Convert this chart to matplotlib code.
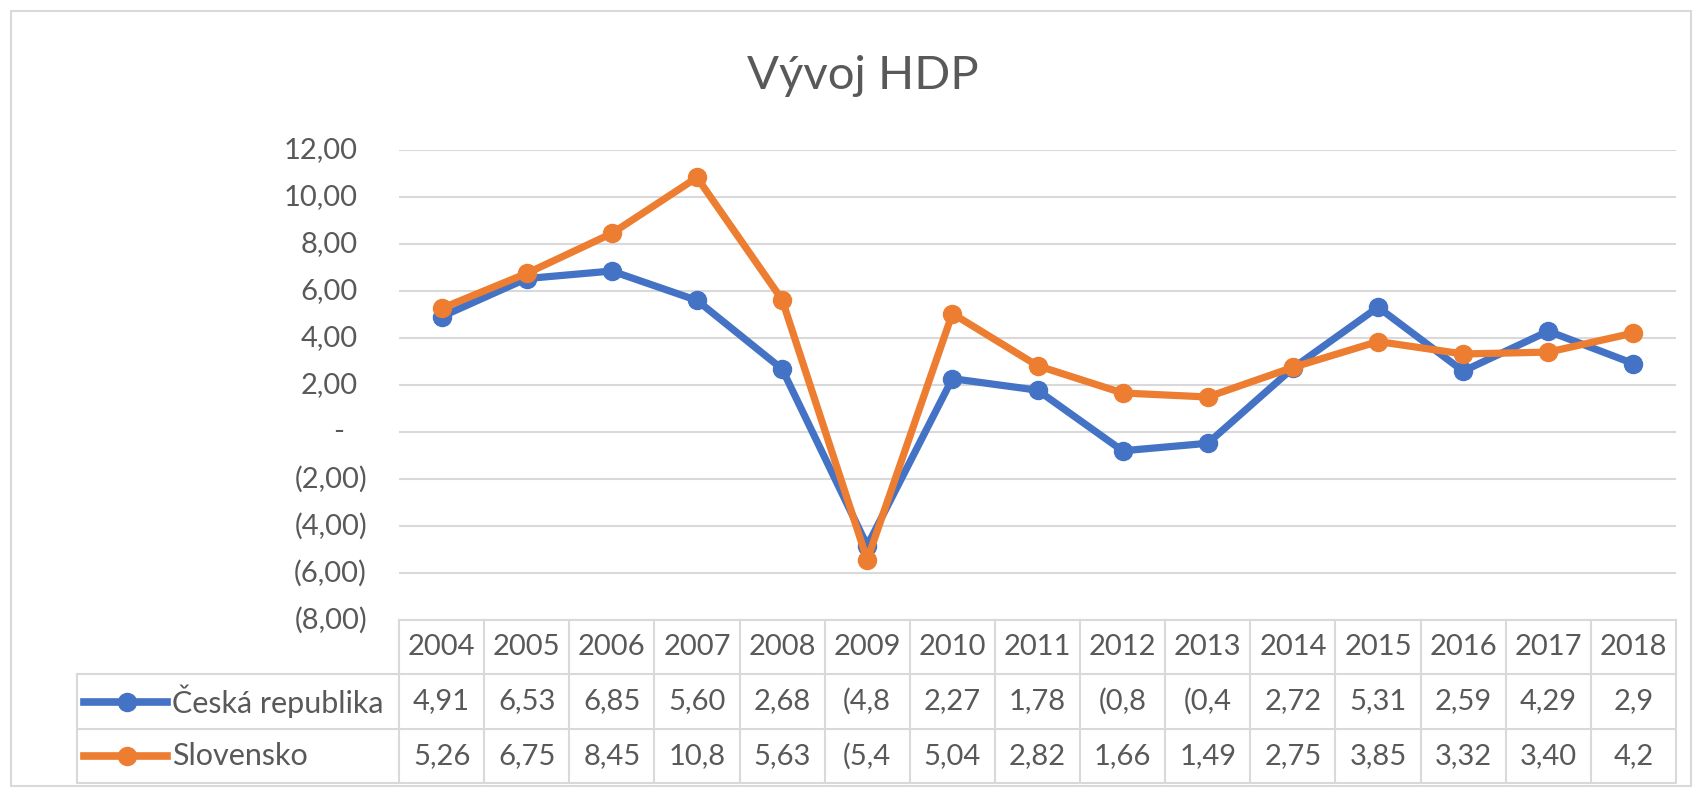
import matplotlib.pyplot as plt
from matplotlib.patches import Rectangle
from matplotlib.transforms import blended_transform_factory

years = ['2004', '2005', '2006', '2007', '2008', '2009', '2010', '2011',
         '2012', '2013', '2014', '2015', '2016', '2017', '2018']
cz_values = [4.91, 6.53, 6.85, 5.60, 2.68, -4.84, 2.27, 1.78,
             -0.80, -0.48, 2.72, 5.31, 2.59, 4.29, 2.91]
sk_values = [5.26, 6.75, 8.45, 10.83, 5.63, -5.44, 5.04, 2.82,
             1.66, 1.49, 2.75, 3.85, 3.32, 3.40, 4.21]
# cell texts as they appear (Excel cuts off what does not fit)
cz_labels = ['4,91', '6,53', '6,85', '5,60', '2,68', '(4,8', '2,27', '1,78',
             '(0,8', '(0,4', '2,72', '5,31', '2,59', '4,29', '2,9']
sk_labels = ['5,26', '6,75', '8,45', '10,8', '5,63', '(5,4', '5,04', '2,82',
             '1,66', '1,49', '2,75', '3,85', '3,32', '3,40', '4,2']
series_names = ['Česká republika', 'Slovensko']
series_colors = ['#4472C4', '#ED7D31']
yticks = [-8, -6, -4, -2, 0, 2, 4, 6, 8, 10, 12]
title = 'Vývoj HDP'

TXT = '#595959'
GRID = '#d9d9d9'
plt.rcParams['font.family'] = ['Lato', 'DejaVu Sans']

W, H = 1701, 796
fig = plt.figure(figsize=(W / 100, H / 100), dpi=100)

def fx(px):
    return px / W

def fy(py):
    return 1 - py / H

# outer chart frame
fig.patches.append(Rectangle((fx(11), fy(786)), fx(1691) - fx(11), fy(11) - fy(786),
                             transform=fig.transFigure, fill=False,
                             edgecolor=GRID, lw=1.5))

fig.text(fx(863), fy(89), title, ha='center', va='baseline',
         fontsize=34, color=TXT)

# plot area
left, right, top, bottom = 399, 1676, 150, 620
ax = fig.add_axes([fx(left), fy(bottom), fx(right) - fx(left), fy(top) - fy(bottom)])
x = list(range(len(years)))
for vals, col in zip([cz_values, sk_values], series_colors):
    ax.plot(x, vals, color=col, lw=5.2, marker='o', ms=13, solid_joinstyle='round',
            zorder=3)
ax.set_xlim(-0.5, len(years) - 0.5)
ax.set_ylim(-8, 12)
ax.set_yticks(yticks)
ax.set_xticks([])
ax.yaxis.grid(True, color=GRID, lw=1.5)
ax.tick_params(axis='y', length=0, labelleft=False)
for s in ax.spines.values():
    s.set_visible(False)

# y labels in Excel accounting style
col_w = 1.0 / (right - left)
ylab = blended_transform_factory(ax.transAxes, ax.transData)
for v in yticks:
    if v > 0:
        s, xr = f'{v:.2f}'.replace('.', ','), (358 - left) * col_w
    elif v < 0:
        s, xr = '(' + f'{-v:.2f}'.replace('.', ',') + ')', (367 - left) * col_w
    else:
        s, xr = '-', (344 - left) * col_w
    ax.text(xr, v, s, transform=ylab, ha='right', va='center',
            fontsize=21, color=TXT)

# data table below the plot
t_top, t_bot = 620, 783
tab = fig.add_axes([fx(left), fy(t_bot), fx(right) - fx(left), fy(t_top) - fy(t_bot)],
                   sharex=ax)
tab.set_ylim(3, 0)
tab.axis('off')
bl = blended_transform_factory(tab.transAxes, tab.transData)
leg_left = (77 - left) * col_w
n = len(years)
# grid lines
tab.plot([-0.5, n - 0.5], [0, 0], color=GRID, lw=1.5, clip_on=False)
for r in [1, 2, 3]:
    tab.plot([leg_left, 1], [r, r], color=GRID, lw=1.5, transform=bl, clip_on=False)
tab.plot([leg_left, leg_left], [1, 3], color=GRID, lw=1.5, transform=bl, clip_on=False)
for i in range(n + 1):
    tab.plot([i - 0.5, i - 0.5], [0, 3], color=GRID, lw=1.5, clip_on=False)

for i, yr in enumerate(years):
    tab.text(i, 0.5, yr, ha='center', va='center', fontsize=21, color=TXT)
for r, labels in enumerate([cz_labels, sk_labels], start=1):
    for i, s in enumerate(labels):
        tab.text(i, r + 0.5, s, ha='center', va='center', fontsize=21, color=TXT)

# legend keys inside the table
for r, (name, col) in enumerate(zip(series_names, series_colors), start=1):
    tab.plot([(84 - left) * col_w, (167 - left) * col_w], [r + 0.5, r + 0.5],
             color=col, lw=5.5, transform=bl, clip_on=False)
    tab.plot([(127 - left) * col_w], [r + 0.5], marker='o', ms=13, color=col,
             transform=bl, clip_on=False)
    tab.text((172 - left) * col_w, r + 0.5, name, transform=bl, ha='left',
             va='center', fontsize=22, color=TXT)

fig.savefig('out.png', dpi=100)
